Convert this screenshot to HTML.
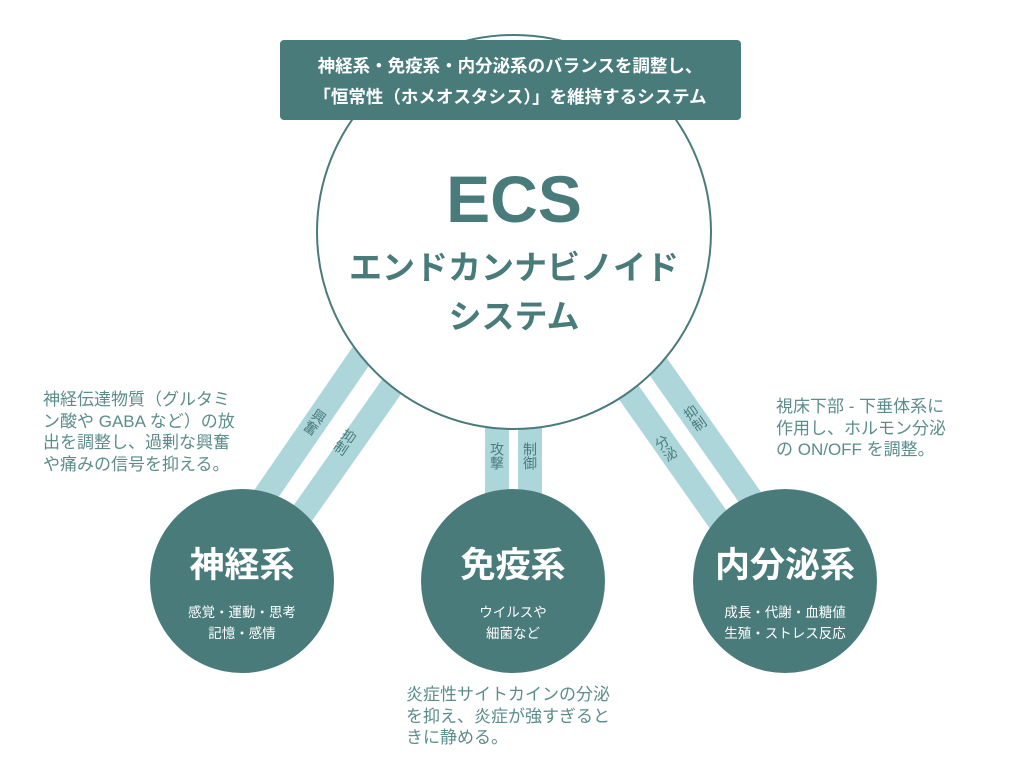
<!DOCTYPE html>
<html><head><meta charset="utf-8">
<style>
html,body{margin:0;padding:0;background:#fff;}
body{width:1024px;height:769px;position:relative;overflow:hidden;font-family:"Liberation Sans","Noto Sans CJK JP",sans-serif;}
.t{position:absolute;color:#5b8d8c;font-size:17px;line-height:21.7px;white-space:nowrap;}
.v{writing-mode:vertical-rl;}
</style></head><body>
<svg width="1024" height="769" style="position:absolute;left:0;top:0" font-family="Liberation Sans, Noto Sans CJK JP, sans-serif">
<g stroke="#acd6d9" stroke-width="24">
<line x1="372" y1="340" x2="262" y2="500"/>
<line x1="402" y1="372" x2="298" y2="520"/>
<line x1="497" y1="420" x2="497" y2="500"/>
<line x1="530" y1="420" x2="530" y2="500"/>
<line x1="650" y1="355" x2="752" y2="500"/>
<line x1="620" y1="380" x2="722" y2="525"/>
</g>
<circle cx="514" cy="232" r="197" fill="#fff" stroke="#4a7b7b" stroke-width="2"/>
<g fill="#4b7c7c" font-size="14">
<text class="v" transform="translate(315,422) rotate(34)" text-anchor="middle">興奮</text>
<text class="v" transform="translate(345,442) rotate(34)" text-anchor="middle">抑制</text>
<text class="v" x="497" y="456" text-anchor="middle">攻撃</text>
<text class="v" x="530" y="456" text-anchor="middle">制御</text>
<text class="v" transform="translate(666,448) rotate(-35)" text-anchor="middle">分泌</text>
<text class="v" transform="translate(695,418) rotate(-35)" text-anchor="middle">抑制</text>
</g>
<rect x="280" y="40" width="461" height="80" rx="4" fill="#4a7b7b"/>
<text x="510" y="72" fill="#fff" font-size="17.5" font-weight="bold" text-anchor="middle">神経系・免疫系・内分泌系のバランスを調整し、</text>
<text x="510" y="103" fill="#fff" font-size="17.5" font-weight="bold" text-anchor="middle">「恒常性（ホメオスタシス）」を維持するシステム</text>
<text x="514" y="222" fill="#4a7b7b" font-size="66" font-weight="bold" text-anchor="middle">ECS</text>
<text x="514" y="279" fill="#4a7b7b" font-size="33" font-weight="bold" text-anchor="middle">エンドカンナビノイド</text>
<text x="514" y="328" fill="#4a7b7b" font-size="33" font-weight="bold" text-anchor="middle">システム</text>
<g fill="#4a7b7b">
<circle cx="242" cy="581" r="92"/>
<circle cx="513" cy="581" r="92"/>
<circle cx="785" cy="581" r="92"/>
</g>
<g fill="#fff" text-anchor="middle">
<text x="242" y="577" font-size="35" font-weight="bold">神経系</text>
<text x="242" y="617" font-size="13.5">感覚・運動・思考</text>
<text x="242" y="638" font-size="13.5">記憶・感情</text>
<text x="513" y="577" font-size="35" font-weight="bold">免疫系</text>
<text x="513" y="617" font-size="13.5">ウイルスや</text>
<text x="513" y="638" font-size="13.5">細菌など</text>
<text x="785" y="577" font-size="35" font-weight="bold">内分泌系</text>
<text x="785" y="617" font-size="13.5">成長・代謝・血糖値</text>
<text x="785" y="638" font-size="13.5">生殖・ストレス反応</text>
</g>
</svg>
<div class="t" style="left:43px;top:389px">神経伝達物質（グルタミ<br>ン酸や GABA など）の放<br>出を調整し、過剰な興奮<br>や痛みの信号を抑える。</div>
<div class="t" style="left:776px;top:396px">視床下部 - 下垂体系に<br>作用し、ホルモン分泌<br>の ON/OFF を調整。</div>
<div class="t" style="left:406px;top:684px">炎症性サイトカインの分泌<br>を抑え、炎症が強すぎると<br>きに静める。</div>
</body></html>
